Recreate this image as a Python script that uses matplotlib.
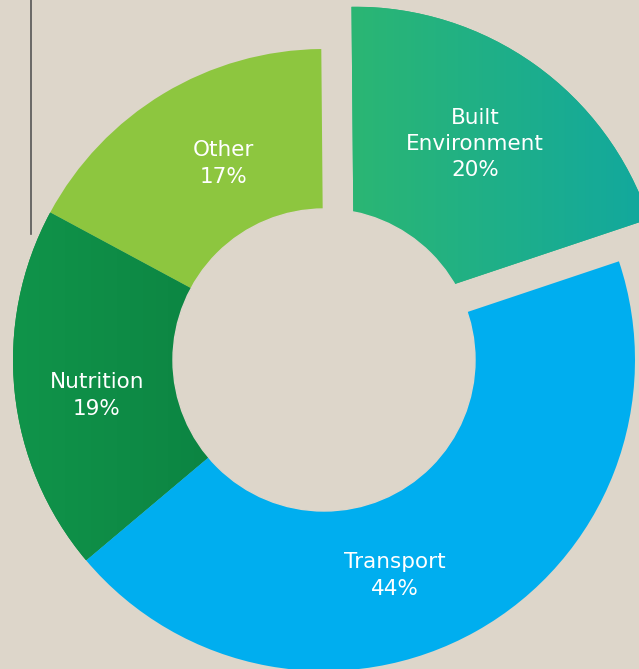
import matplotlib.pyplot as plt
import numpy as np
from matplotlib.colors import LinearSegmentedColormap
from matplotlib.patches import Circle

# shares of the total, counter-clockwise from the exploded slice
labels = ["Built\nEnvironment", "Other", "Nutrition", "Transport"]
shares = [20, 17, 19, 44]
colors = ["#25B27A", "#8DC63F", "#0E8F43", "#00AEEF"]
explode = [52, 0, 0, 0]
# slices filled with a left-to-right gradient
gradients = {0: ("#2BB673", "#12A89E"), 2: ("#10944A", "#0A7C3E")}
# label placement: angular nudge (deg) and distance as a fraction of radius
nudge = [0.7, -4, 3, -11]
label_dist = [0.68, 0.71, 0.74, 0.73]

bg = "#DDD6CA"
cx, cy = 324, 309
R, hole = 311, 151

fig = plt.figure(figsize=(6.39, 6.69), dpi=100, facecolor=bg)
ax = fig.add_axes([0, 0, 1, 1])
ax.set_facecolor(bg)

wedges, _ = ax.pie(shares, colors=colors, explode=explode, radius=R,
                   center=(cx, cy), startangle=18.5, counterclock=True,
                   wedgeprops=dict(linewidth=0))

for i, (c0, c1) in gradients.items():
    w = wedges[i]
    ext = w.get_path().get_extents()
    cmap = LinearSegmentedColormap.from_list("grad%d" % i, [c0, c1])
    im = ax.imshow(np.linspace(0, 1, 256)[None, :], cmap=cmap, aspect="auto",
                   extent=(ext.x0, ext.x1, ext.y0, ext.y1), zorder=2,
                   interpolation="bilinear")
    im.set_clip_path(w)

ax.add_patch(Circle((cx, cy), hole, color=bg, zorder=3))

for w, lab, pct, dn, dist in zip(wedges, labels, shares, nudge, label_dist):
    ang = np.deg2rad((w.theta1 + w.theta2) / 2 + dn)
    x = w.center[0] + dist * R * np.cos(ang)
    y = w.center[1] + dist * R * np.sin(ang)
    ax.text(x, y, f"{lab}\n{pct}%", color="white", ha="center", va="center",
            fontsize=15.5, family="DejaVu Sans", linespacing=1.4, zorder=4)

ax.axvline(30.5, ymin=1 - 234 / 669, ymax=1, color="#555555", lw=1.2)

ax.set_xlim(0, 639)
ax.set_ylim(0, 669)
ax.set_aspect("auto")
ax.axis("off")
plt.savefig("out.png", dpi=100, facecolor=bg)
